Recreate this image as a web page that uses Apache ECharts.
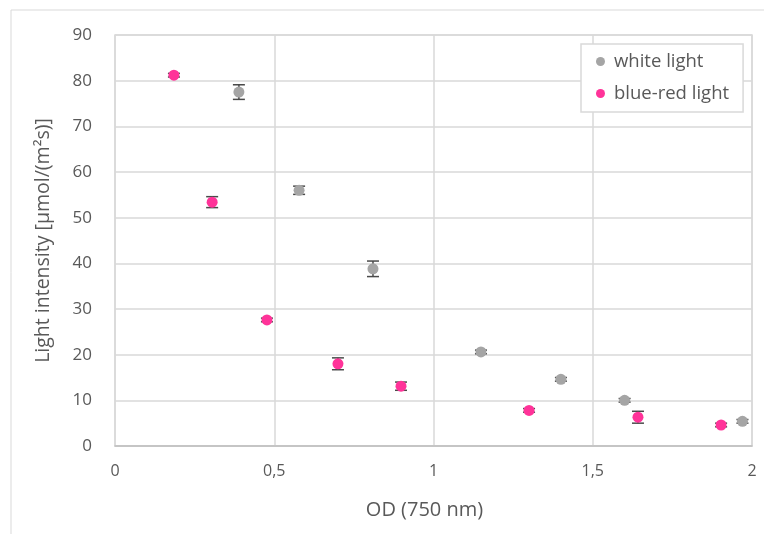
<!DOCTYPE html>
<html><head><meta charset="utf-8">
<script src="https://cdn.jsdelivr.net/npm/echarts@6/dist/echarts.min.js"></script>
<style>html,body{margin:0;padding:0;background:#fff}#c{width:764px;height:534px}</style>
</head><body><div id="c"></div>
<script>
const whiteOD = [0.389, 0.578, 0.81, 1.149, 1.40, 1.60, 1.97];
const whiteI  = [77.5, 56.0, 38.8, 20.6, 14.6, 10.0, 5.4];
const whiteErr= [1.6, 0.9, 1.7, 0.4, 0.4, 0.4, 0.4];
const brOD  = [0.185, 0.305, 0.477, 0.70, 0.898, 1.30, 1.642, 1.903];
const brI   = [81.2, 53.4, 27.6, 18.0, 13.1, 7.8, 6.3, 4.6];
const brErr = [0.4, 1.2, 0.4, 1.3, 0.9, 0.4, 1.3, 0.4];
const xTicks = [0, 0.5, 1, 1.5, 2];
const yTicks = [0, 10, 20, 30, 40, 50, 60, 70, 80, 90];

const pts = (xs, ys) => xs.map((x, i) => [x, ys[i]]);
const errs = (xs, ys, es) => xs.map((x, i) => [x, ys[i], es[i]]);

function errRender(params, api) {
  const x = api.value(0), y = api.value(1), e = api.value(2);
  const top = api.coord([x, y + e]);
  const bot = api.coord([x, y - e]);
  const hw = 6;
  const st = {stroke: '#4a4a4a', lineWidth: 1.5};
  return {type: 'group', children: [
    {type: 'line', shape: {x1: top[0], y1: top[1], x2: bot[0], y2: bot[1]}, style: st},
    {type: 'line', shape: {x1: top[0]-hw, y1: top[1], x2: top[0]+hw, y2: top[1]}, style: st},
    {type: 'line', shape: {x1: bot[0]-hw, y1: bot[1], x2: bot[0]+hw, y2: bot[1]}, style: st}
  ]};
}

const chart = echarts.init(document.getElementById('c'));
const fontFam = '"Open Sans", sans-serif';
chart.setOption({
  animation: false,
  textStyle: {fontFamily: fontFam},
  graphic: [{type: 'rect', shape: {x: 11, y: 10, width: 800, height: 600},
    style: {fill: 'none', stroke: '#d9d9d9', lineWidth: 1}, z: -10}],
  grid: {left: 115, top: 35, right: 12, bottom: 88, show: true, borderColor: '#d9d9d9', borderWidth: 1.5},
  legend: {
    data: ['white light', 'blue-red light'],
    orient: 'vertical', left: 581, top: 44,
    padding: [8, 14, 9, 15], itemGap: 13,
    backgroundColor: '#fff', borderColor: '#d9d9d9', borderWidth: 1.5,
    icon: 'circle', itemWidth: 9, itemHeight: 9,
    textStyle: {color: '#595959', fontSize: 18.5, fontFamily: fontFam, padding: [0, 0, 0, 4]}
  },
  xAxis: {
    type: 'value', min: 0, max: 2, interval: 0.5,
    name: 'OD (750 nm)', nameLocation: 'middle', nameGap: 54,
    nameTextStyle: {color: '#595959', fontSize: 20, fontFamily: fontFam, padding: [0, 18, 0, 0]},
    axisLine: {show: true, lineStyle: {color: '#bfbfbf', width: 1.5}},
    axisTick: {show: false},
    splitLine: {show: true, lineStyle: {color: '#d9d9d9', width: 1.5}},
    axisLabel: {color: '#595959', fontSize: 16, margin: 17, fontFamily: fontFam,
      formatter: v => xTicks.includes(v) ? String(v).replace('.', ',') : ''}
  },
  yAxis: {
    type: 'value', min: 0, max: 90, interval: 10,
    name: 'Light intensity [µmol/(m²s)]', nameLocation: 'middle', nameGap: 62,
    nameTextStyle: {color: '#595959', fontSize: 19.5, fontFamily: fontFam},
    axisLine: {show: false}, axisTick: {show: false},
    splitLine: {show: true, lineStyle: {color: '#d9d9d9', width: 1.5}},
    axisLabel: {color: '#595959', fontSize: 17, margin: 23, fontFamily: fontFam,
      formatter: v => yTicks.includes(v) ? String(v) : ''}
  },
  series: [
    {name: 'white-err', type: 'custom', renderItem: errRender, data: errs(whiteOD, whiteI, whiteErr), z: 2, silent: true},
    {name: 'br-err', type: 'custom', renderItem: errRender, data: errs(brOD, brI, brErr), z: 2, silent: true},
    {name: 'white light', type: 'scatter', symbol: 'circle', symbolSize: 11,
      itemStyle: {color: '#a5a5a5', opacity: 1}, data: pts(whiteOD, whiteI), z: 5},
    {name: 'blue-red light', type: 'scatter', symbol: 'circle', symbolSize: 11,
      itemStyle: {color: '#ff3399', opacity: 1}, data: pts(brOD, brI), z: 5}
  ]
});
</script></body></html>
